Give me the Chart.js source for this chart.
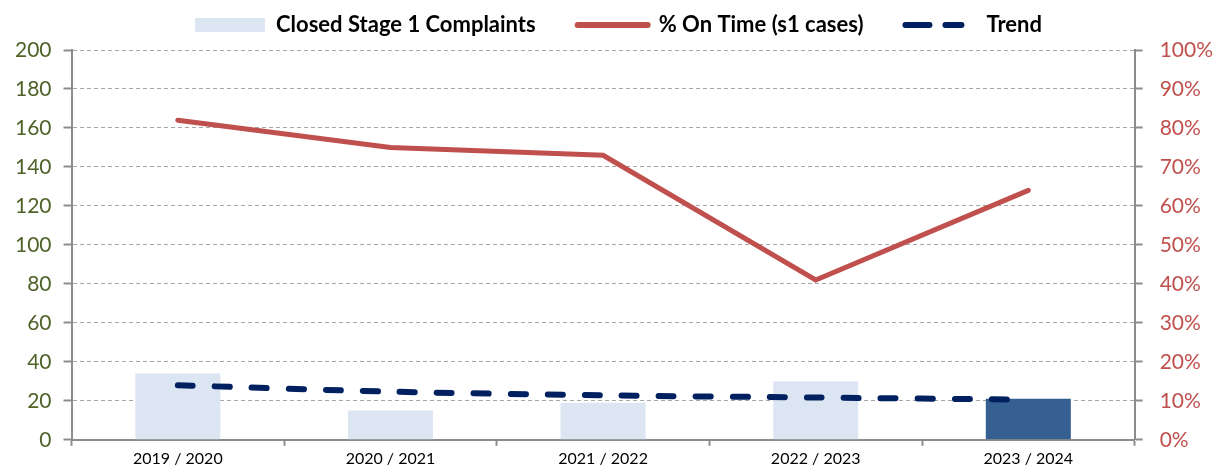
<!DOCTYPE html>
<html>
<head>
<meta charset="utf-8">
<script src="https://cdn.jsdelivr.net/npm/chart.js@4.4.1/dist/chart.umd.min.js"></script>
<style>
    html, body { margin: 0; padding: 0; background: #ffffff; }
    #wrap { width: 1219px; height: 471px; }
</style>
</head>
<body>
<div id="wrap"><canvas id="complaintsChart"></canvas></div>
<script>
var years = ["2019 / 2020", "2020 / 2021", "2021 / 2022", "2022 / 2023", "2023 / 2024"];
var closedComplaints = [34, 15, 19, 30, 21];
var onTimePct = [82, 75, 73, 41, 64];
var trendValues = [28, 24.7, 22.8, 21.7, 20.6];
var barColours = ["#dce6f2", "#dce6f2", "#dce6f2", "#dce6f2", "#376092"];

var fontName = "Lato, 'Open Sans', sans-serif";

// a bit more room under the legend
var legendTweak = {
    id: 'legendTweak',
    afterInit: function (chart) {
        var origFit = chart.legend.fit;
        chart.legend.fit = function () {
            origFit.call(this);
            this.height += 4;
        };
    },
    afterLayout: function (chart) {
        chart.legend.left += 2;
        chart.legend.right += 2;
    }
};

new Chart(document.getElementById("complaintsChart"), {
    type: 'bar',
    data: {
        labels: years,
        datasets: [
            {
                label: "Closed Stage 1 Complaints",
                data: closedComplaints,
                backgroundColor: barColours,
                borderWidth: 0,
                barPercentage: 0.4,
                categoryPercentage: 1,
                yAxisID: 'y',
                order: 3
            },
            {
                type: 'line',
                label: "% On Time (s1 cases)",
                data: onTimePct,
                borderColor: "#c0504d",
                backgroundColor: "#c0504d",
                borderWidth: 5,
                pointRadius: 0,
                tension: 0,
                borderCapStyle: 'round',
                yAxisID: 'y1',
                order: 1
            },
            {
                type: 'line',
                label: "Trend",
                data: trendValues,
                borderColor: "#002060",
                backgroundColor: "#002060",
                borderWidth: 6,
                borderDash: [15, 22],
                borderCapStyle: 'round',
                pointRadius: 0,
                tension: 0.3,
                yAxisID: 'y',
                order: 2
            }
        ]
    },
    plugins: [legendTweak],
    options: {
        responsive: true,
        maintainAspectRatio: false,
        animation: false,
        layout: {
            padding: { left: 3, right: -11, top: -28, bottom: 0 }
        },
        plugins: {
            tooltip: { enabled: false },
            legend: {
                position: 'top',
                labels: {
                    usePointStyle: true,
                    pointStyleWidth: 70,
                    boxHeight: 14,
                    padding: 42,
                    color: "#000000",
                    font: { family: fontName, size: 22, weight: 'bold' },
                    generateLabels: function (chart) {
                        return [
                            {
                                text: "Closed Stage 1 Complaints",
                                fillStyle: "#dce6f2",
                                strokeStyle: "#dce6f2",
                                lineWidth: 0,
                                pointStyle: 'rect',
                                datasetIndex: 0
                            },
                            {
                                text: "% On Time (s1 cases)",
                                fillStyle: "#c0504d",
                                strokeStyle: "#c0504d",
                                lineWidth: 6,
                                lineCap: 'round',
                                pointStyle: 'line',
                                datasetIndex: 1
                            },
                            {
                                text: "Trend",
                                fillStyle: "#002060",
                                strokeStyle: "#002060",
                                lineWidth: 6,
                                lineCap: 'round',
                                lineDash: [24, 16, 16, 40],
                                pointStyle: 'line',
                                datasetIndex: 2
                            }
                        ];
                    }
                }
            }
        },
        scales: {
            x: {
                grid: {
                    offset: true,
                    drawOnChartArea: false,
                    drawTicks: true,
                    tickLength: 6,
                    tickColor: "#8c8c8c",
                    tickWidth: 2
                },
                border: { color: "#8c8c8c", width: 2 },
                ticks: {
                    color: "#000000",
                    font: { family: fontName, size: 16 },
                    padding: 3,
                    maxRotation: 0
                }
            },
            y: {
                position: 'left',
                min: 0,
                max: 200,
                grid: {
                    color: "#a6a6a6",
                    lineWidth: 1,
                    tickLength: 8,
                    tickColor: "#8c8c8c",
                    tickWidth: 2
                },
                border: { color: "#8c8c8c", width: 2, dash: [4, 3] },
                ticks: {
                    stepSize: 20,
                    color: "#4f6228",
                    font: { family: fontName, size: 21 },
                    padding: 12
                }
            },
            y1: {
                position: 'right',
                min: 0,
                max: 100,
                grid: {
                    drawOnChartArea: false,
                    tickLength: 8,
                    tickColor: "#8c8c8c",
                    tickWidth: 2
                },
                border: { color: "#8c8c8c", width: 2 },
                ticks: {
                    stepSize: 10,
                    color: "#c0504d",
                    font: { family: fontName, size: 21 },
                    padding: 17,
                    callback: function (v) { return v + "%"; }
                }
            }
        }
    }
});
</script>
</body>
</html>
